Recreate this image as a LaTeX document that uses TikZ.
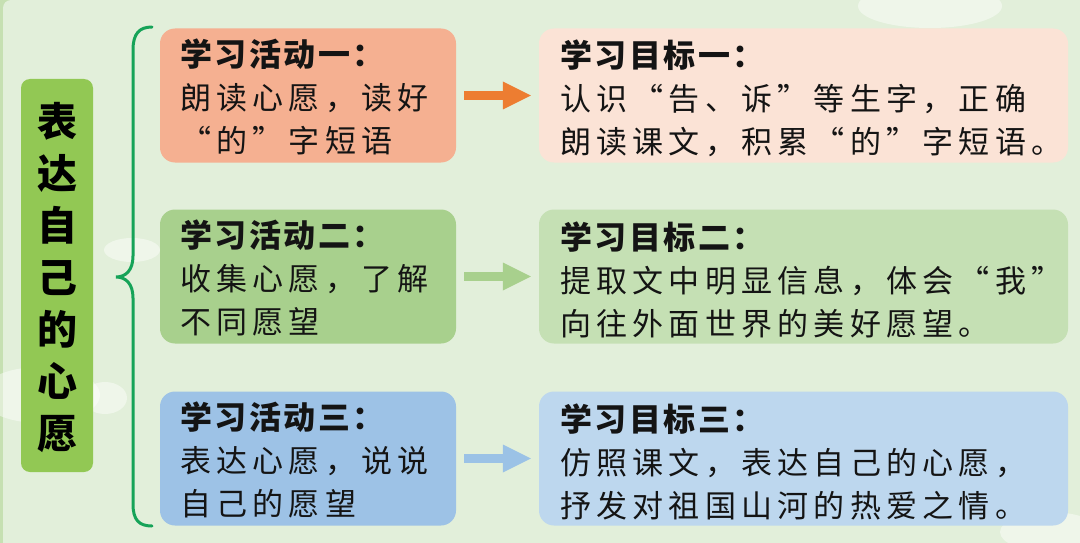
\documentclass[tikz,border=0pt]{standalone}
\usepackage{fontspec}
\usetikzlibrary{arrows.meta}
\newfontfamily\cjkbody[LetterSpace=17]{Noto Sans CJK SC}
\newfontfamily\cjkhead[LetterSpace=8]{Noto Sans CJK SC}
\newfontfamily\cjktitle{Noto Sans CJK SC}
\definecolor{bgc}{RGB}{226,239,218}
\definecolor{edgec}{RGB}{198,224,178}
\definecolor{titlec}{RGB}{146,200,84}
\definecolor{actA}{RGB}{245,176,145}
\definecolor{actB}{RGB}{168,208,141}
\definecolor{actC}{RGB}{157,194,230}
\definecolor{goalA}{RGB}{251,227,214}
\definecolor{goalB}{RGB}{197,224,180}
\definecolor{goalC}{RGB}{189,215,238}
\definecolor{arrA}{RGB}{237,125,49}
\definecolor{arrB}{RGB}{168,208,141}
\definecolor{arrC}{RGB}{155,194,230}
\definecolor{bracec}{RGB}{22,163,88}
\tikzset{
  actbox/.style={rectangle, rounded corners=15pt, minimum width=296pt, minimum height=134pt, inner sep=0pt},
  goalbox/.style={rectangle, rounded corners=15pt, minimum width=529pt, minimum height=134pt, inner sep=0pt},
  txt/.style={anchor=west, align=left, inner sep=0pt, text=black!92,
    font=\fontsize{31pt}{43pt}\cjkbody\selectfont},
  conn/.style={line width=9pt, shorten <=8pt, shorten >=8pt,
    -{Triangle[length=28pt,width=28pt,line width=0pt]}},
  cloud/.style={fill=white, opacity=0.45}
}
\newcommand{\hdr}[1]{{\fontsize{32pt}{43pt}\cjkhead\bfseries #1}}
\begin{document}
\begin{tikzpicture}[x=1pt,y=-1pt]
\useasboundingbox (0,0) rectangle (1080,543);
\fill[edgec] (0,0) rectangle (1080,543);
\fill[bgc] (3,543) [rounded corners=8pt] -- (3,0) [sharp corners] -- (1080,0) -- (1080,543) -- cycle;
% clouds
\fill[cloud] (930,6) ellipse [x radius=72pt, y radius=22pt];
\fill[cloud] (132,250) ellipse [x radius=28pt, y radius=12pt];
\fill[cloud] (40,395) ellipse [x radius=60pt, y radius=28pt];
\fill[cloud] (105,398) ellipse [x radius=22pt, y radius=16pt];
\fill[cloud] (1050,532) ellipse [x radius=50pt, y radius=20pt];
% title
\node[rectangle, rounded corners=9pt, fill=titlec, minimum width=72pt, minimum height=393pt, inner sep=0pt] (title) at (57,275.5) {};
\node[align=center, inner sep=0pt, font=\fontsize{40pt}{52pt}\cjktitle\bfseries\selectfont] (titletext) at (57,278) {表\\达\\自\\己\\的\\心\\愿};
% brace
\draw[bracec, line width=3pt, line cap=round]
  (152,27) .. controls (139,27) and (133,34) .. (133,50) -- (133,256)
  .. controls (133,270) and (126,277) .. (116,277)
  .. controls (126,277) and (133,284) .. (133,298) -- (133,504)
  .. controls (133,520) and (139,526) .. (152,526);
% activity boxes
\node[actbox, fill=actA] (a1) at (308,95.5) {};
\node[actbox, fill=actB] (a2) at (308,276.5) {};
\node[actbox, fill=actC] (a3) at (308,458.5) {};
% goal boxes
\node[goalbox, fill=goalA] (g1) at (803.5,95.5) {};
\node[goalbox, fill=goalB] (g2) at (803.5,276.5) {};
\node[goalbox, fill=goalC] (g3) at (803.5,458.5) {};
% texts
\node[txt] (a1t) at ([xshift=20pt,yshift=-1pt]a1.west) {\hdr{学习活动一：}\\朗读心愿，读好\\“的”字短语};
\node[txt] (a2t) at ([xshift=20pt,yshift=-1pt]a2.west) {\hdr{学习活动二：}\\收集心愿，了解\\不同愿望};
\node[txt] (a3t) at ([xshift=20pt,yshift=-1pt]a3.west) {\hdr{学习活动三：}\\表达心愿，说说\\自己的愿望};
\node[txt] (g1t) at ([xshift=21pt,yshift=-3pt]g1.west) {\hdr{学习目标一：}\\认识“告、诉”等生字，正确\\朗读课文，积累“的”字短语。};
\node[txt] (g2t) at ([xshift=21pt,yshift=-3pt]g2.west) {\hdr{学习目标二：}\\提取文中明显信息，体会“我”\\向往外面世界的美好愿望。};
\node[txt] (g3t) at ([xshift=21pt,yshift=-3pt]g3.west) {\hdr{学习目标三：}\\仿照课文，表达自己的心愿，\\抒发对祖国山河的热爱之情。};
% arrows
\draw[conn, arrA] (a1) -- (g1);
\draw[conn, arrB] (a2) -- (g2);
\draw[conn, arrC] (a3) -- (g3);
\end{tikzpicture}
\end{document}
